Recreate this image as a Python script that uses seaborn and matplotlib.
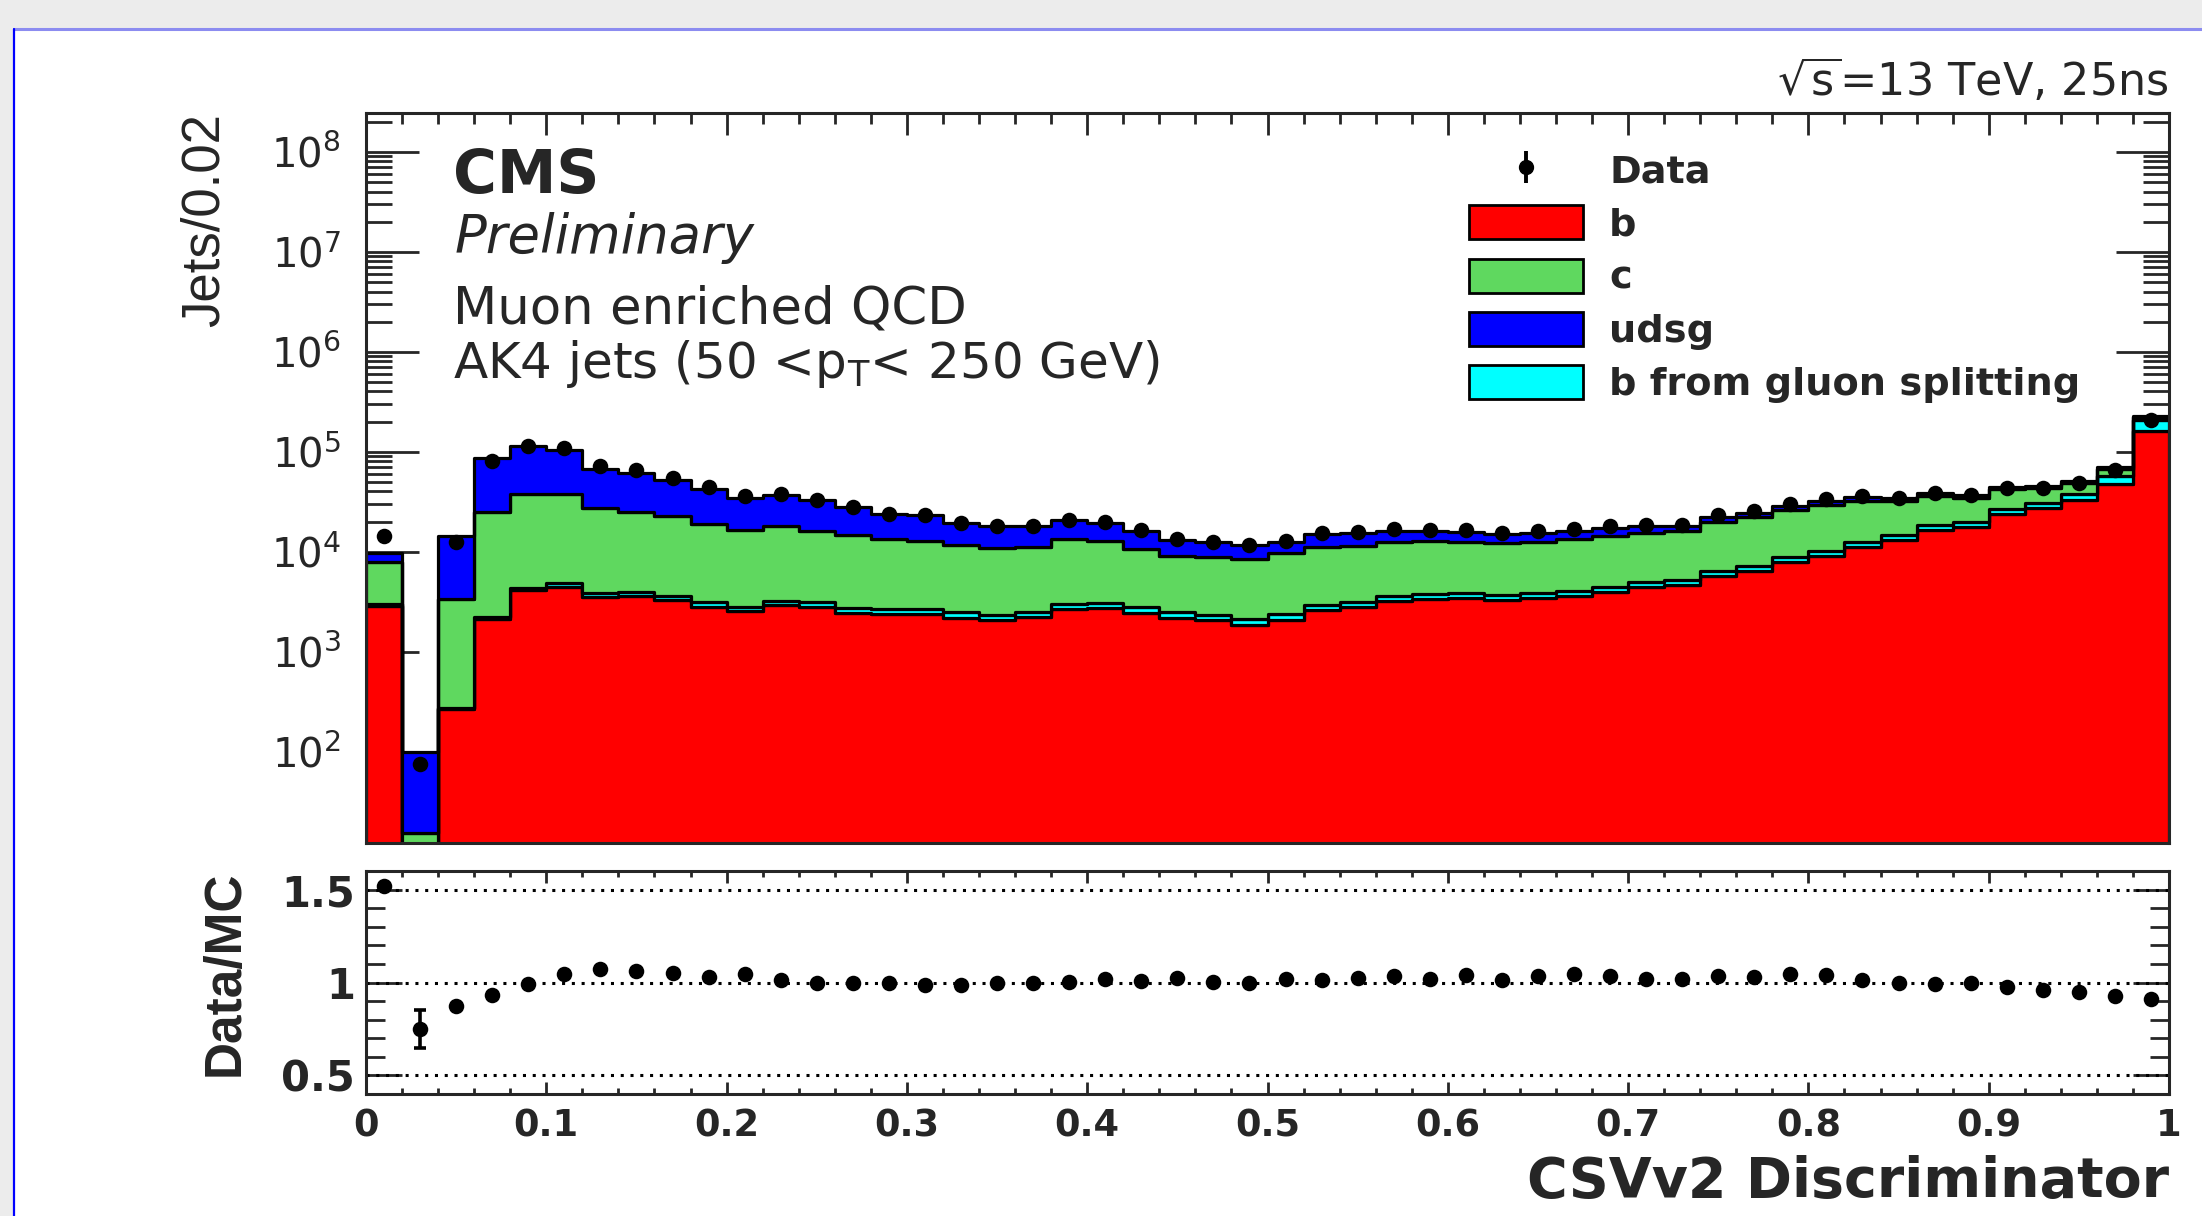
import numpy as np
import pandas as pd
import matplotlib
matplotlib.use("Agg")
import matplotlib.pyplot as plt
from matplotlib.lines import Line2D
from matplotlib.patches import Patch, Rectangle
from matplotlib.ticker import MultipleLocator, LogLocator, NullFormatter, FixedLocator
from matplotlib.legend_handler import HandlerTuple
from matplotlib.font_manager import FontProperties
import seaborn as sns

# ---------------- data ----------------
bin_edges = np.linspace(0.0, 1.0, 51)
bin_centers = 0.5 * (bin_edges[:-1] + bin_edges[1:])

b_jets = [2880, 5, 265, 2140, 4170, 4420, 3510, 3630, 3310, 2790,
          2570, 2950, 2820, 2450, 2400, 2400, 2190, 2090, 2210, 2660,
          2750, 2450, 2160, 2090, 1860, 2090, 2630, 2790, 3200, 3390,
          3430, 3310, 3470, 3590, 3980, 4420, 4680, 5690, 6460, 7940,
          9120, 11220, 13180, 16600, 17780, 23990, 27540, 33110, 47320, 162200]
gsplit_jets = [120, 0.5, 10, 70, 200, 480, 380, 350, 320, 340,
               250, 290, 310, 300, 260, 290, 290, 250, 300, 330,
               340, 340, 320, 250, 280, 310, 320, 340, 390, 410,
               420, 410, 420, 440, 490, 530, 570, 770, 780, 870,
               1110, 1370, 1610, 2020, 2170, 2930, 3360, 4910, 9700, 46700]
c_jets = [4860, 10, 3115, 22900, 33600, 32700, 23650, 21140, 19270, 15920,
          13780, 14960, 13090, 12040, 10830, 10190, 9270, 8620, 8710, 10500,
          9790, 7930, 6640, 6570, 6370, 7370, 8270, 8350, 9000, 9080,
          8740, 8580, 8700, 9460, 9980, 10540, 10970, 13490, 15150, 17490,
          18940, 19770, 17570, 17690, 14720, 15250, 12750, 10960, 10590, 12400]
udsg_jets = [1830, 84, 10870, 62000, 76800, 67100, 40060, 36540, 29600, 23610,
             18070, 18950, 16890, 13390, 10500, 10560, 7750, 7240, 6980, 7160,
             6620, 5500, 4060, 3680, 3240, 2820, 3920, 4010, 3630, 3340,
             3260, 2840, 2900, 2730, 2930, 2710, 1780, 2440, 2160, 2540,
             2820, 3120, 2310, 2590, 2060, 2500, 1540, 1720, 3180, 7800]
data_jets = [14500, 75, 12400, 81400, 113700, 109400, 72300, 65400, 55100, 43900,
             36200, 37600, 33100, 28000, 23900, 23100, 19200, 18200, 18100, 20700,
             19800, 16400, 13500, 12600, 11700, 12800, 15400, 15900, 16800, 16500,
             16500, 15400, 16000, 17000, 18000, 18600, 18400, 23100, 25300, 30100,
             33300, 36000, 34600, 38500, 36700, 43600, 43500, 48200, 65700, 208500]
ratio = [1.52, 0.75, 0.873, 0.935, 0.99, 1.045, 1.07, 1.06, 1.05, 1.03,
         1.045, 1.012, 1.0, 0.995, 0.995, 0.985, 0.985, 1.0, 0.995, 1.004,
         1.017, 1.01, 1.025, 1.004, 0.998, 1.02, 1.016, 1.025, 1.036, 1.02,
         1.04, 1.016, 1.034, 1.048, 1.036, 1.02, 1.02, 1.034, 1.03, 1.045,
         1.04, 1.016, 0.998, 0.99, 0.998, 0.977, 0.962, 0.95, 0.928, 0.91]
ratio_err = [0.01, 0.1] + [0.0] * 48

flavours = ["udsg", "c", "gsplit", "b"]          # stacking: last one at the bottom
flavour_colors = {"b": "#ff0000", "c": "#5fd85f", "udsg": "#0000ff", "gsplit": "#00ffff"}
legend_labels = ["Data", "b", "c", "udsg", "b from gluon splitting"]
ratio_ref_lines = [0.5, 1.0, 1.5]
ratio_ticks = [0.5, 1.0, 1.5]
ratio_tick_labels = ["0.5", "1", "1.5"]
x_ticks = [0.0, 0.1, 0.2, 0.3, 0.4, 0.5, 0.6, 0.7, 0.8, 0.9, 1.0]
x_tick_labels = ["0", "0.1", "0.2", "0.3", "0.4", "0.5", "0.6", "0.7", "0.8", "0.9", "1"]

# ---------------- style ----------------
sns.set_style("ticks")
plt.rcParams["font.family"] = ["DejaVu Sans"]
plt.rcParams["mathtext.fontset"] = "dejavusans"
plt.rcParams["axes.linewidth"] = 2.2
NARROW = ["Liberation Sans", "DejaVu Sans"]

W, H = 2202, 1216
fig = plt.figure(figsize=(W / 100, H / 100), dpi=100)
fig.patch.set_facecolor("white")


def fx(px):
    return px / W


def fy(py):
    return 1 - py / H


# canvas decoration (gray band + window border)
fig.patches.append(Rectangle((0, fy(29)), 1, 29 / H, transform=fig.transFigure,
                             fc="#ececec", ec="none", zorder=-10))
fig.patches.append(Rectangle((0, 0), fx(14), fy(29), transform=fig.transFigure,
                             fc="#ececec", ec="none", zorder=-10))
fig.lines.append(Line2D([fx(14), 1], [fy(29), fy(29)], transform=fig.transFigure,
                        color="#8c8cf0", lw=2.2))
fig.lines.append(Line2D([fx(14), fx(14)], [0, fy(29)], transform=fig.transFigure,
                        color="#0000ff", lw=1.6))

L, R = 366, 2169
ax_top = fig.add_axes([fx(L), fy(843), (R - L) / W, (843 - 113) / H])
ax_bot = fig.add_axes([fx(L), fy(1094), (R - L) / W, (1094 - 871) / H])

# ---------------- upper panel: stacked MC ----------------
df = pd.DataFrame({
    "disc": np.tile(bin_centers, 4),
    "jets": np.concatenate([udsg_jets, c_jets, gsplit_jets, b_jets]),
    "flavour": np.repeat(flavours, len(bin_centers)),
})
sns.histplot(data=df, x="disc", weights="jets", hue="flavour", hue_order=flavours,
             palette=flavour_colors, multiple="stack", element="step", bins=list(bin_edges),
             fill=True, alpha=1, edgecolor="black", linewidth=2.3, legend=False, ax=ax_top)
sns.scatterplot(x=bin_centers, y=data_jets, color="black", s=125, linewidth=0,
                legend=False, ax=ax_top, zorder=10)

ax_top.set_yscale("log")
ax_top.set_xlim(0, 1)
ax_top.set_ylim(12.2, 2.44e8)
ax_top.xaxis.set_major_locator(MultipleLocator(0.1))
ax_top.xaxis.set_minor_locator(MultipleLocator(0.02))
ax_top.yaxis.set_major_locator(LogLocator(base=10, numticks=20))
ax_top.yaxis.set_minor_locator(LogLocator(base=10, subs=np.arange(2, 10), numticks=20))
ax_top.yaxis.set_minor_formatter(NullFormatter())
ax_top.tick_params(axis="x", which="both", direction="in", top=True, bottom=True,
                   labelbottom=False, width=2)
ax_top.tick_params(axis="x", which="major", length=15.8)
ax_top.tick_params(axis="x", which="minor", length=7.9)
ax_top.tick_params(axis="y", which="both", direction="in", left=True, right=True, width=2)
ax_top.tick_params(axis="y", which="major", length=38, labelsize=29, pad=18)
ax_top.tick_params(axis="y", which="minor", length=19)
ax_top.set_xlabel("")
ax_top.set_ylabel("Jets/0.02", fontsize=38, family=NARROW)
ax_top.yaxis.label.set(rotation_mode="default", ha="right", va="top")
ax_top.yaxis.set_label_coords(-0.0759, 1.0)
for s in ax_top.spines.values():
    s.set_linewidth(2.2)
    s.set_zorder(20)

# texts
fig.text(fx(453), fy(193), "CMS", fontsize=43, fontweight="bold", va="baseline")
fig.text(fx(455), fy(253), "Preliminary", fontsize=38, fontstyle="italic", va="baseline")
fig.text(fx(453), fy(323), "Muon enriched QCD", fontsize=37, va="baseline")
fig.text(fx(453), fy(378), r"AK4 jets (50 <p$_{\mathrm{T}}$< 250 GeV)", fontsize=36, va="baseline")
fig.text(fx(2169), fy(96), r"$\sqrt{\mathrm{s}}$=13 TeV, 25ns", fontsize=32, ha="right", va="baseline")

# legend
data_handle = (Line2D([], [], color="black", marker="|", markersize=23, mew=2.8, linestyle="none"),
               Line2D([], [], color="black", marker="o", markersize=10, linestyle="none"))
handles = [data_handle] + [Patch(fc=flavour_colors[k], ec="black", lw=2)
                           for k in ["b", "c", "udsg", "gsplit"]]
ax_top.legend(handles, legend_labels, handler_map={tuple: HandlerTuple(ndivide=1)},
              loc="upper left", bbox_to_anchor=(fx(1469), fy(152)), bbox_transform=fig.transFigure,
              frameon=False, prop=FontProperties(family="DejaVu Sans", weight="bold", size=27.5),
              handlelength=2.98, handleheight=0.99, handletextpad=0.69, labelspacing=0.4,
              borderpad=0, borderaxespad=0)

# ---------------- lower panel: ratio ----------------
for yv in ratio_ref_lines:
    ax_bot.axhline(yv, color="black", linestyle=(0, (1, 2.2)), lw=2.2, zorder=1)
ax_bot.errorbar(bin_centers, ratio, yerr=ratio_err, fmt="none", ecolor="black",
                elinewidth=2.6, capsize=4.5, capthick=2.6, zorder=5)
sns.scatterplot(x=bin_centers, y=ratio, color="black", s=125, linewidth=0,
                legend=False, ax=ax_bot, zorder=10)
ax_bot.set_xlim(0, 1)
ax_bot.set_ylim(0.4, 1.6)
ax_bot.xaxis.set_major_locator(FixedLocator(x_ticks))
ax_bot.set_xticks(x_ticks, x_tick_labels, fontsize=26.5, fontweight="bold")
ax_bot.xaxis.set_minor_locator(MultipleLocator(0.02))
ax_bot.set_yticks(ratio_ticks, ratio_tick_labels, fontsize=30, fontweight="bold")
ax_bot.yaxis.set_minor_locator(MultipleLocator(0.1))
ax_bot.tick_params(axis="x", which="both", direction="in", top=True, bottom=True, width=2)
ax_bot.tick_params(axis="x", which="major", length=8.6, pad=9.5)
ax_bot.tick_params(axis="x", which="minor", length=4)
ax_bot.tick_params(axis="y", which="both", direction="in", left=True, right=True, width=2)
ax_bot.tick_params(axis="y", which="major", length=26, pad=8)
ax_bot.tick_params(axis="y", which="minor", length=13.7)
ax_bot.set_ylabel("Data/MC", fontsize=37, fontweight="bold", family=NARROW)
ax_bot.yaxis.label.set(rotation_mode="default", ha="right", va="top")
ax_bot.yaxis.set_label_coords(-0.0645, 1.0)
ax_bot.set_xlabel("CSVv2 Discriminator", fontsize=40, fontweight="bold", loc="right")
ax_bot.xaxis.label.set_va("baseline")
ax_bot.xaxis.set_label_coords(1.0, -0.462)
for s in ax_bot.spines.values():
    s.set_linewidth(2.2)

fig.savefig("out.png", dpi=100)
